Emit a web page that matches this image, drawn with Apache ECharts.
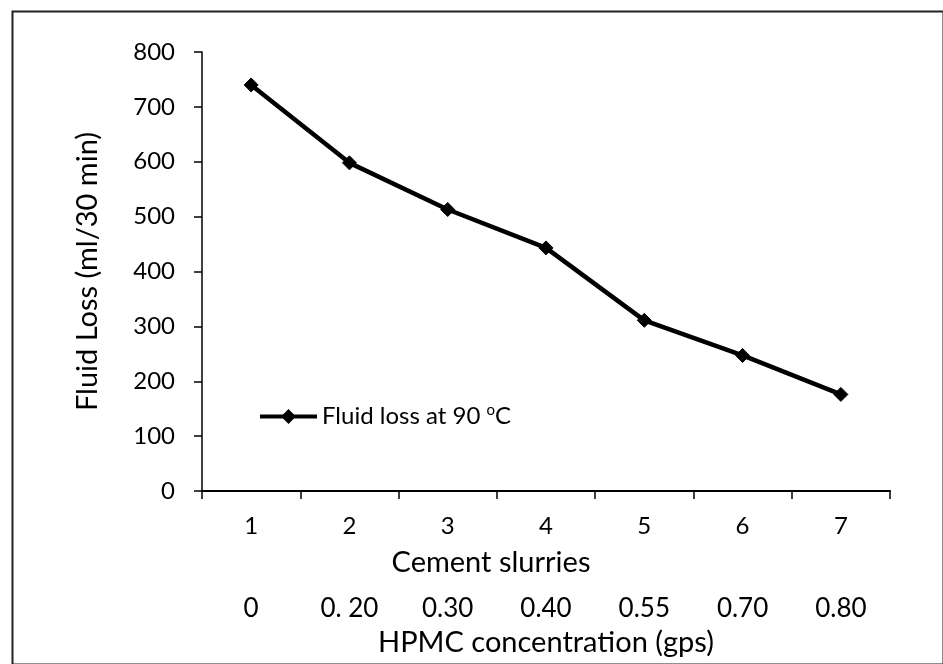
<!DOCTYPE html>
<html>
<head>
<meta charset="utf-8">
<script src="https://cdn.jsdelivr.net/npm/echarts@6/dist/echarts.min.js"></script>
<style>html,body{margin:0;padding:0;background:#fff}#c{width:943px;height:664px}</style>
</head>
<body>
<div id="c"></div>
<script>
var slurries = ['1', '2', '3', '4', '5', '6', '7'];
var hpmcConcentration = ['0', '0. 20', '0.30', '0.40', '0.55', '0.70', '0.80'];
var fluidLoss = [740, 598, 513, 443, 311, 247, 176];
var yTicks = { min: 0, max: 800, interval: 100 };

var FONT = 'Lato';
var INK = '#000';
var chart = echarts.init(document.getElementById('c'), null, { renderer: 'canvas' });
chart.setOption({
  backgroundColor: '#fff',
  animation: false,
  textStyle: { fontFamily: FONT, color: INK },
  graphic: [{
    type: 'rect', left: 10, top: 9,
    shape: { width: 931, height: 653 },
    style: { fill: 'none', stroke: '#222', lineWidth: 2 }
  }],
  grid: { left: 202, right: 53, top: 52, bottom: 173 },
  legend: {
    left: 253, top: 398,
    itemWidth: 57, itemHeight: 15, itemGap: 5,
    lineStyle: { width: 4 },
    textStyle: {
      fontFamily: FONT, fontSize: 24, color: INK,
      rich: {
        a: { fontFamily: FONT, fontSize: 24, color: INK },
        s: { fontFamily: FONT, fontSize: 15, color: INK, verticalAlign: 'top', padding: [0, 0, 12, 0] }
      }
    },
    formatter: function () { return '{a|Fluid loss at 90 }{s|o}{a|C}'; },
    data: ['Fluid loss at 90 °C']
  },
  xAxis: [{
    type: 'category', data: slurries, position: 'bottom', boundaryGap: true,
    axisLine: { lineStyle: { color: INK, width: 2 } },
    axisTick: { show: true, length: 8, lineStyle: { color: INK, width: 1.5 } },
    axisLabel: { margin: 23, fontSize: 24, color: INK, fontFamily: FONT },
    name: 'Cement slurries', nameLocation: 'middle', nameGap: 57,
    nameTextStyle: { fontSize: 29, color: INK, fontFamily: FONT, padding: [0, 110, 0, 0] },
    splitLine: { show: false }
  }, {
    type: 'category', data: hpmcConcentration, position: 'bottom', offset: 97, boundaryGap: true,
    axisLine: { show: false }, axisTick: { show: false },
    axisLabel: { margin: 8, fontSize: 26, color: INK, fontFamily: FONT },
    name: 'HPMC concentration (gps)', nameLocation: 'middle', nameGap: 40,
    nameTextStyle: { fontSize: 29, color: INK, fontFamily: FONT },
    splitLine: { show: false }
  }],
  yAxis: {
    type: 'value', min: yTicks.min, max: yTicks.max, interval: yTicks.interval,
    axisLine: { show: true, lineStyle: { color: INK, width: 1.5 } },
    axisTick: { show: true, length: 8, lineStyle: { color: INK, width: 1.5 } },
    axisLabel: { margin: 27, fontSize: 24, color: INK, fontFamily: FONT },
    splitLine: { show: false },
    name: 'Fluid Loss (ml/30 min)', nameLocation: 'middle', nameGap: 100, nameRotate: 90,
    nameTextStyle: { fontSize: 29, color: INK, fontFamily: FONT }
  },
  series: [{
    name: 'Fluid loss at 90 °C', type: 'line', xAxisIndex: 0, data: fluidLoss,
    symbol: 'diamond', symbolSize: 14, showSymbol: true,
    lineStyle: { color: INK, width: 4.5 },
    itemStyle: { color: INK, borderColor: INK, borderWidth: 1 }
  }]
});
</script>
</body>
</html>
